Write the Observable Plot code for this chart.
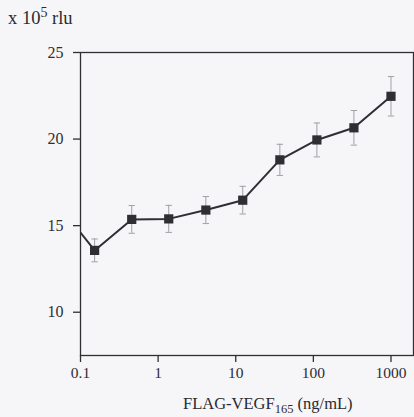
<!DOCTYPE html>
<html>
<head>
<meta charset="utf-8">
<script src="https://cdn.jsdelivr.net/npm/d3@7"></script>
<script src="https://cdn.jsdelivr.net/npm/@observablehq/plot@0.6"></script>
<style>
  html, body { margin: 0; padding: 0; background: #f6f6f9; }
  #wrap { position: relative; width: 414px; height: 417px; font-family: "Liberation Serif", "Times New Roman", serif; color: #2a2a2e; }
  #ylab { position: absolute; left: 8px; top: 8px; font-size: 18.5px; white-space: nowrap; line-height: 1.1; }
  #ylab sup { font-size: 14px; vertical-align: 0; position: relative; top: -7px; }
  #xlab { position: absolute; left: 183px; top: 396px; font-size: 16.5px; white-space: nowrap; line-height: 1; }
  #xlab sub { font-size: 12.5px; vertical-align: 0; position: relative; top: 4px; }
</style>
</head>
<body>
<div id="wrap">
  <div id="chart"></div>
  <div id="ylab">x 10<sup>5</sup> rlu</div>
  <div id="xlab">FLAG-VEGF<sub>165</sub> (ng/mL)</div>
</div>
<script>
// concentrations (ng/mL), 3-fold dilution series
const conc = [0.152, 0.457, 1.37, 4.12, 12.3, 37, 111, 333, 1000];
// signal (x 10^5 rlu)
const signal = [13.57, 15.36, 15.39, 15.9, 16.47, 18.8, 19.95, 20.65, 22.47];
// error (± x 10^5 rlu)
const err = [0.66, 0.8, 0.78, 0.78, 0.8, 0.9, 0.98, 1.0, 1.14];
// line enters from the left edge of the plot (value read at x = 0.1)
const lineStartX = [0.1];
const lineStartY = [14.6];

const xTicks = [0.1, 1, 10, 100, 1000];
const xTickLabels = ["0.1", "1", "10", "100", "1000"];
const yTicks = [10, 15, 20, 25];

const pts = conc.map((c, i) => ({x: c, y: signal[i], lo: signal[i] - err[i], hi: signal[i] + err[i]}));
const linePts = lineStartX.map((x, i) => ({x, y: lineStartY[i]})).concat(pts);

// horizontal bar symbol for error caps
const capSymbol = {
  draw(context, size) {
    const w = Math.sqrt(size) / 2;
    context.moveTo(-w, 0);
    context.lineTo(w, 0);
  }
};

const ink = "#2e2e33";
const errInk = "#a0a0a6";
const chart = Plot.plot({
  width: 414,
  height: 417,
  marginLeft: 80,
  marginRight: 1,
  marginTop: 52,
  marginBottom: 62,
  style: { background: "transparent", fontFamily: "'Liberation Serif', 'Times New Roman', serif", color: ink },
  x: { type: "log", domain: [0.1, 1950], label: null },
  y: { domain: [7.5, 25], label: null },
  marks: [
    Plot.frame({ stroke: ink, strokeWidth: 1.3 }),
    Plot.axisX({ ticks: xTicks, tickFormat: d => xTickLabels[xTicks.indexOf(d)], tickSize: 7, tickPadding: 4, fontSize: 15.5, stroke: ink, strokeWidth: 1.3, label: null }),
    Plot.axisY({ ticks: yTicks, tickSize: 7, tickPadding: 10, fontSize: 16, stroke: ink, strokeWidth: 1.3, label: null }),
    Plot.ruleX(pts, { x: "x", y1: "lo", y2: "hi", stroke: errInk, strokeWidth: 1 }),
    Plot.dot(pts, { x: "x", y: "hi", symbol: capSymbol, r: 3.6, stroke: errInk, strokeWidth: 1, fill: "none" }),
    Plot.dot(pts, { x: "x", y: "lo", symbol: capSymbol, r: 3.6, stroke: errInk, strokeWidth: 1, fill: "none" }),
    Plot.line(linePts, { x: "x", y: "y", stroke: ink, strokeWidth: 2, clip: true }),
    Plot.dot(pts, { x: "x", y: "y", symbol: "square", r: 5.2, fill: ink, stroke: "none" })
  ]
});
document.getElementById("chart").appendChild(chart);
</script>
</body>
</html>
